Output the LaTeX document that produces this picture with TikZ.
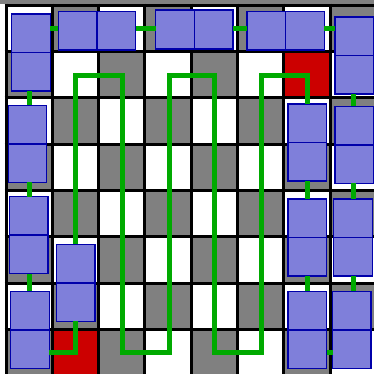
\documentclass[tikz,border=0pt]{standalone}
\usetikzlibrary{calc}
\definecolor{cgray}{HTML}{808080}
\definecolor{cred}{HTML}{CC0000}
\definecolor{cgreen}{HTML}{00AA00}
\definecolor{dfill}{HTML}{7F7FDA}
\definecolor{dline}{HTML}{0000AA}
\tikzset{
 dom/.style={draw=dline, fill=dfill, line width=1.4mm, inner sep=0pt, outer sep=0pt},
 vdom/.style={dom, minimum width=38.5mm, minimum height=77mm,
   path picture={\draw[dline,line width=1.4mm] (path picture bounding box.west) -- (path picture bounding box.east);}},
 hdom/.style={dom, minimum width=77.4mm, minimum height=38.7mm,
   path picture={\draw[dline,line width=1.4mm] (path picture bounding box.north) -- (path picture bounding box.south);}},
 conn/.style={draw=cgreen, line width=5mm},
 gridline/.style={line width=3mm, black},
}
\begin{document}
\begin{tikzpicture}[x=1mm,y=-1mm]
\useasboundingbox (0,0) rectangle (374,374);
\clip (0,0) rectangle (374,374);
\fill[white] (0,0) rectangle (374,374);
% checkerboard
\foreach \i in {0,...,7}{
  \foreach \j in {0,...,7}{
    \pgfmathtruncatemacro\k{mod(\i+\j,2)}
    \ifnum\k=1
      \fill[cgray] ({6+46.33*\i},{5.25+46.33*\j}) rectangle ++(46.33,46.33);
    \fi
  }
}
\fill[cred] ({6+46.33*6},{5.25+46.33*1}) rectangle ++(46.33,46.33);
\fill[cred] ({6+46.33*1},{5.25+46.33*7}) rectangle ++(46.33,46.33);
\fill[cgray] (0,0) rectangle (374,4);
\foreach \k in {0,...,8}{
  \draw[gridline] ({6+46.33*\k},3.75) -- ({6+46.33*\k},374);
  \draw[gridline] (4.5,{5.25+46.33*\k}) -- (374,{5.25+46.33*\k});
}
% dominos (nodes)
\node[vdom] (A) at (31,52.5) {};
\node[hdom] (B) at (97,30.65) {};
\node[hdom] (C) at (194.35,29.5) {};
\node[hdom] (D) at (285.65,30.65) {};
\node[vdom] (E) at (354.25,55.5) {};
\node[vdom] (F) at (354.25,144.8) {};
\node[vdom] (G) at (353,237.65) {};
\node[vdom] (H) at (351.8,329.8) {};
\node[vdom] (I) at (307.35,329.8) {};
\node[vdom] (J) at (307.35,237.65) {};
\node[vdom] (K) at (307.35,142.5) {};
\node[vdom] (L) at (27.5,143.8) {};
\node[vdom] (M) at (28.8,235.15) {};
\node[vdom] (N) at (30,329.8) {};
\node[vdom] (O) at (75.65,282.8) {};
% reference coordinates for connector lanes
\coordinate (toprow) at (0,29);
\coordinate (lc) at (29.3,0);
\coordinate (rc) at (353.3,0);
\coordinate (mc) at (307.2,0);
\coordinate (bot) at (0,352.5);
\coordinate (topp) at (0,75.8);
\coordinate (c1) at (75.8,0);
\coordinate (c2) at (122.5,0);
\coordinate (c3) at (169.2,0);
\coordinate (c4) at (214.8,0);
\coordinate (c5) at (261.3,0);
% connectors
\draw[conn] (A.east |- toprow) -- (B.west |- toprow);
\draw[conn] (B.east |- toprow) -- (C.west |- toprow);
\draw[conn] (C.east |- toprow) -- (D.west |- toprow);
\draw[conn] (D.east |- toprow) -- (E.west |- toprow);
\draw[conn] (rc |- E.south) -- (rc |- F.north);
\draw[conn] (rc |- F.south) -- (rc |- G.north);
\draw[conn] (rc |- G.south) -- (rc |- H.north);
\draw[conn] (H.west |- bot) -- (I.east |- bot);
\draw[conn] (mc |- I.north) -- (mc |- J.south);
\draw[conn] (mc |- J.north) -- (mc |- K.south);
\draw[conn] (mc |- K.north) -- (mc |- topp) -- (c5 |- topp) -- (c5 |- bot) -- (c4 |- bot)
  -- (c4 |- topp) -- (c3 |- topp) -- (c3 |- bot) -- (c2 |- bot) -- (c2 |- topp)
  -- (c1 |- topp) -- (c1 |- O.north);
\draw[conn] (c1 |- O.south) -- (c1 |- bot) -- (N.east |- bot);
\draw[conn] (lc |- N.north) -- (lc |- M.south);
\draw[conn] (lc |- M.north) -- (lc |- L.south);
\draw[conn] (lc |- L.north) -- (lc |- A.south);
\end{tikzpicture}
\end{document}
